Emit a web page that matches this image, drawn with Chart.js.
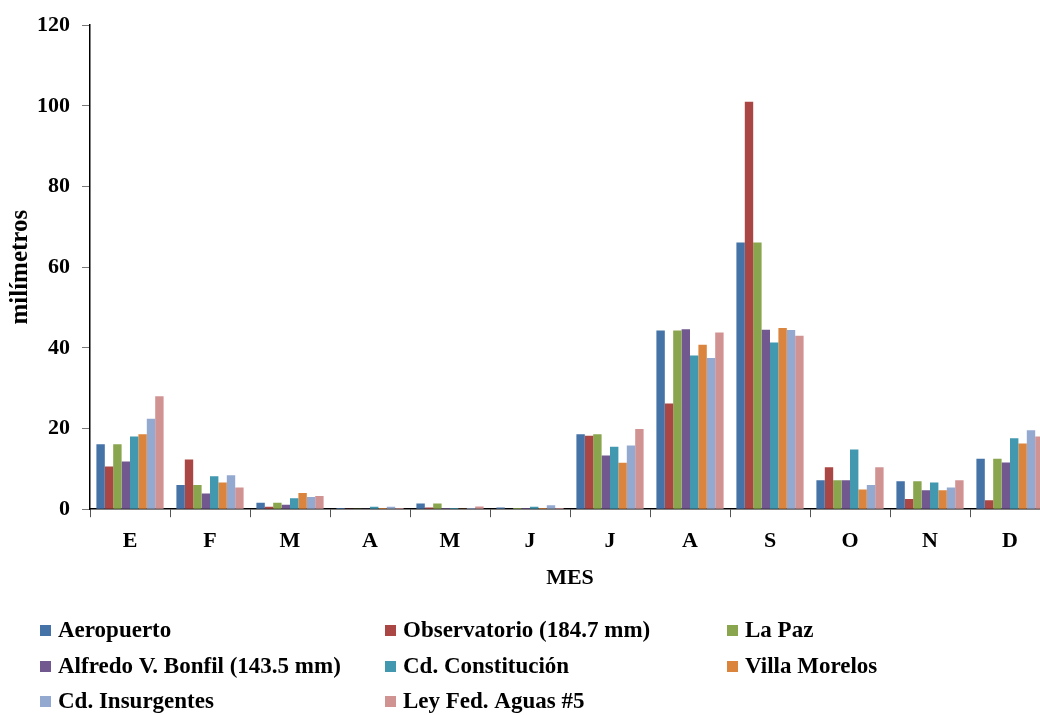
<!DOCTYPE html>
<html lang="es">
<head>
<meta charset="utf-8">
<title>Precipitación mensual</title>
<script src="https://cdn.jsdelivr.net/npm/chart.js@4/dist/chart.umd.min.js"></script>
<style>
  html, body { margin: 0; padding: 0; background: #fff; overflow: hidden; }
  .contenedor { width: 1056px; height: 715px; position: relative; }
</style>
</head>
<body>
<div class="contenedor">
  <canvas id="grafico"></canvas>
</div>
<script>
const meses = ['E', 'F', 'M', 'A', 'M', 'J', 'J', 'A', 'S', 'O', 'N', 'D'];
const ticksY = [0, 20, 40, 60, 80, 100, 120];

// precipitacion media mensual (mm) por estacion
const aeropuerto   = [16.1, 6.0, 1.6, 0.3, 1.4, 0.4, 18.6, 44.3, 66.1, 7.2, 6.9, 12.5];
const observatorio = [10.6, 12.3, 0.6, 0.2, 0.4, 0.1, 18.2, 26.2, 101.0, 10.4, 2.5, 2.2];
const laPaz        = [16.1, 6.0, 1.6, 0.2, 1.4, 0.3, 18.6, 44.3, 66.1, 7.2, 6.9, 12.5];
const alfredoBonfil = [11.8, 3.9, 1.1, 0.2, 0.3, 0.3, 13.3, 44.6, 44.5, 7.2, 4.7, 11.6];
const cdConstitucion = [18.0, 8.2, 2.7, 0.6, 0.3, 0.6, 15.5, 38.1, 41.3, 14.8, 6.6, 17.6];
const villaMorelos = [18.6, 6.6, 4.0, 0.3, 0.2, 0.3, 11.5, 40.8, 44.9, 4.9, 4.7, 16.3];
const cdInsurgentes = [22.4, 8.4, 3.0, 0.6, 0.3, 1.0, 15.8, 37.5, 44.4, 6.0, 5.4, 19.6];
const leyFedAguas  = [28.0, 5.4, 3.3, 0.3, 0.7, 0.3, 19.9, 43.8, 43.0, 10.4, 7.2, 18.0];

const fuente = '"Liberation Serif", "Times New Roman", serif';

/* leyenda en 3 columnas dibujada sobre el canvas */
const leyendaColumnas = {
  id: 'leyendaColumnas',
  afterDraw(chart) {
    const ctx = chart.ctx;
    const colX = [40, 385, 727];
    const filaY = [631, 667, 702];
    ctx.save();
    ctx.font = 'bold 23px ' + fuente;
    ctx.textBaseline = 'middle';
    ctx.textAlign = 'left';
    chart.data.datasets.forEach((ds, i) => {
      const x = colX[i % 3];
      const y = filaY[Math.floor(i / 3)];
      ctx.fillStyle = ds.backgroundColor;
      ctx.fillRect(x, y - 6, 11, 11);
      ctx.fillStyle = '#000';
      ctx.fillText(ds.label, x + 18, y);
    });
    ctx.restore();
  }
};

document.addEventListener('DOMContentLoaded', () => {
  const ctx = document.getElementById('grafico').getContext('2d');

  const serie = (label, data, color) => ({
    label: label,
    data: data,
    backgroundColor: color,
    borderWidth: 0,
    categoryPercentage: 0.84,
    barPercentage: 1.0
  });

  new Chart(ctx, {
    type: 'bar',
    data: {
      labels: meses,
      datasets: [
        serie('Aeropuerto', aeropuerto, '#4572A7'),
        serie('Observatorio (184.7 mm)', observatorio, '#AA4643'),
        serie('La Paz', laPaz, '#89A54E'),
        serie('Alfredo V. Bonfil (143.5 mm)', alfredoBonfil, '#71588F'),
        serie('Cd. Constitución', cdConstitucion, '#4198AF'),
        serie('Villa Morelos', villaMorelos, '#DB843D'),
        serie('Cd. Insurgentes', cdInsurgentes, '#93A9CF'),
        serie('Ley Fed. Aguas #5', leyFedAguas, '#D19392')
      ]
    },
    options: {
      responsive: true,
      maintainAspectRatio: false,
      animation: false,
      layout: {
        padding: {left: 0, right: 6, top: 12, bottom: 123}
      },
      scales: {
        x: {
          offset: true,
          grid: {
            offset: true,
            drawOnChartArea: false,
            drawTicks: true,
            tickLength: 8,
            tickColor: '#555'
          },
          border: {display: true, color: '#000', width: 1.5},
          ticks: {
            color: '#000',
            padding: 11,
            font: {family: fuente, weight: 'bold', size: 22}
          },
          title: {
            display: true,
            text: 'MES',
            color: '#000',
            padding: {top: 0, bottom: 0},
            font: {family: fuente, weight: 'bold', size: 22}
          }
        },
        y: {
          min: 0,
          max: 120,
          afterBuildTicks: axis => {
            axis.ticks = ticksY.map(v => ({value: v}));
          },
          // ancho fijo del eje para que arranque en x = 90
          afterFit: scale => {
            scale.width = 90;
          },
          grid: {
            drawOnChartArea: false,
            drawTicks: true,
            tickLength: 8,
            tickColor: '#777'
          },
          border: {display: true, color: '#000', width: 1.5},
          ticks: {
            color: '#000',
            padding: 12,
            font: {family: fuente, weight: 'bold', size: 22}
          },
          title: {
            display: true,
            text: 'milímetros',
            color: '#000',
            padding: {top: 6, bottom: 0},
            font: {family: fuente, weight: 'bold', size: 25}
          }
        }
      },
      plugins: {
        legend: {display: false},
        tooltip: {enabled: false},
        title: {display: false}
      }
    },
    plugins: [leyendaColumnas]
  });
});
</script>
</body>
</html>
